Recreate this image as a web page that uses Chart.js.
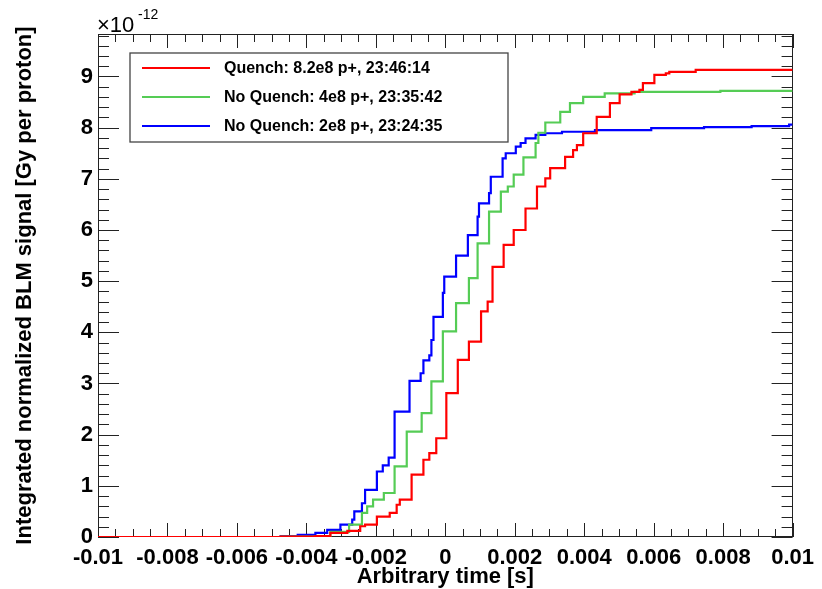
<!DOCTYPE html>
<html>
<head>
<meta charset="utf-8">
<script src="https://cdn.jsdelivr.net/npm/chart.js@4.4.0/dist/chart.umd.min.js"></script>
<style>
  html, body { margin: 0; padding: 0; background: #fff; }
  canvas { display: block; }
</style>
</head>
<body>
<canvas id="blm" width="822" height="589"></canvas>
<script>
// time in s, signal in units of 1e-12 Gy per proton
const quenchT = [-0.01, -0.00474, -0.00374, -0.00331, -0.00282, -0.00245, -0.00231, -0.00197, -0.00160, -0.00140,
                 -0.00131, -0.00097, -0.00063, -0.00046, -0.00026, 0.00003, 0.00036, 0.00068, 0.00103, 0.00122,
                 0.00136, 0.00168, 0.00197, 0.00231, 0.00264, 0.00288, 0.00302, 0.00345, 0.00368, 0.00379,
                 0.00397, 0.00436, 0.00474, 0.00502, 0.00536, 0.00559, 0.00569, 0.00602, 0.00635, 0.00645,
                 0.00721, 0.01];
const quenchY = [0, 0.01, 0.02, 0.08, 0.12, 0.21, 0.24, 0.40, 0.47, 0.63,
                 0.73, 1.22, 1.51, 1.64, 1.93, 2.81, 3.46, 3.82, 4.41, 4.60,
                 5.28, 5.71, 6.00, 6.42, 6.85, 7.01, 7.21, 7.43, 7.56, 7.66,
                 7.89, 8.21, 8.48, 8.65, 8.70, 8.74, 8.87, 9.03, 9.06, 9.09,
                 9.13, 9.13];

const noQuench4T = [-0.01, -0.00474, -0.00374, -0.00331, -0.00277, -0.00240, -0.00225, -0.00208, -0.00177, -0.00146,
                    -0.00111, -0.00068, -0.00040, -0.00007, 0.00031, 0.00068, 0.00093, 0.00126, 0.00160, 0.00180,
                    0.00197, 0.00225, 0.00260, 0.00268, 0.00288, 0.00331, 0.00359, 0.00397, 0.00459, 0.00545,
                    0.00792, 0.01];
const noQuench4Y = [0, 0.01, 0.02, 0.10, 0.24, 0.47, 0.60, 0.73, 0.86, 1.38,
                    2.06, 2.42, 3.04, 4.02, 4.57, 5.06, 5.74, 6.36, 6.75, 6.85,
                    7.08, 7.42, 7.70, 7.90, 8.10, 8.31, 8.48, 8.60, 8.67, 8.70,
                    8.72, 8.72];

const noQuench2T = [-0.01, -0.00474, -0.00425, -0.00374, -0.00340, -0.00302, -0.00268, -0.00262, -0.00240, -0.00231,
                    -0.00197, -0.00180, -0.00163, -0.00146, -0.00103, -0.00071, -0.00063, -0.00046, -0.00040, -0.00034,
                    -0.00007, -0.00003, 0.00031, 0.00065, 0.00093, 0.00097, 0.00126, 0.00131, 0.00165, 0.00174,
                    0.00203, 0.00217, 0.00231, 0.00260, 0.00288, 0.00336, 0.00431, 0.00593, 0.00745, 0.00882,
                    0.00990, 0.01];
const noQuench2Y = [0, 0.02, 0.04, 0.08, 0.14, 0.24, 0.34, 0.50, 0.66, 0.92,
                    1.28, 1.40, 1.55, 2.45, 3.05, 3.20, 3.45, 3.55, 3.85, 4.30,
                    4.77, 5.09, 5.50, 5.90, 6.26, 6.52, 6.72, 7.04, 7.40, 7.50,
                    7.63, 7.70, 7.79, 7.86, 7.89, 7.92, 7.95, 7.99, 8.01, 8.03,
                    8.06, 8.06];

const seriesLabels = ["Quench: 8.2e8 p+, 23:46:14", "No Quench: 4e8 p+, 23:35:42", "No Quench: 2e8 p+, 23:24:35"];
const seriesColors = ["#ff0000", "#55cc55", "#0000ff"];

const xMin = -0.01, xMax = 0.01, xStep = 0.002;
const yMin = 0, yMax = 9.83;

const FONT = "'Liberation Sans', Arial, Helvetica, sans-serif";

function toPoints(ts, ys) {
  return ts.map((t, i) => ({ x: t, y: ys[i] }));
}

// ROOT style frame with inward ticks on all four sides
const frameTicks = {
  id: 'frameTicks',
  beforeDatasetsDraw(chart) {
    const { ctx, chartArea: a, scales: { x, y } } = chart;
    ctx.save();
    ctx.strokeStyle = '#222';
    ctx.lineWidth = 1;
    ctx.beginPath();
    for (let i = 0; i <= 40; i++) {
      const px = Math.round(x.getPixelForValue(xMin + i * 0.0005)) + 0.5;
      const len = i % 4 === 0 ? 14 : 8;
      ctx.moveTo(px, a.bottom); ctx.lineTo(px, a.bottom - len);
      ctx.moveTo(px, a.top); ctx.lineTo(px, a.top + len);
    }
    for (let i = 0; i * 0.2 <= yMax; i++) {
      const py = Math.round(y.getPixelForValue(i * 0.2)) + 0.5;
      const len = i % 5 === 0 ? 21 : 11;
      ctx.moveTo(a.left, py); ctx.lineTo(a.left + len, py);
      ctx.moveTo(a.right, py); ctx.lineTo(a.right - len, py);
    }
    ctx.stroke();
    ctx.strokeRect(Math.round(a.left) + 0.5, Math.round(a.top) + 0.5,
                   Math.round(a.width) - 1, Math.round(a.height) - 1);
    ctx.restore();
  }
};

// legend box inside the frame, plus the x10^-12 exponent
const boxLegend = {
  id: 'boxLegend',
  afterDraw(chart) {
    const { ctx } = chart;
    ctx.save();
    ctx.fillStyle = '#fff';
    ctx.fillRect(130, 53, 378, 89);
    ctx.strokeStyle = '#444';
    ctx.lineWidth = 1.3;
    ctx.strokeRect(130, 53, 378, 89);
    const rows = [68, 97, 126];
    chart.data.datasets.forEach((ds, i) => {
      ctx.strokeStyle = ds.borderColor;
      ctx.lineWidth = 2;
      ctx.beginPath();
      ctx.moveTo(142, rows[i]);
      ctx.lineTo(210, rows[i]);
      ctx.stroke();
      ctx.fillStyle = '#000';
      ctx.font = "bold 16px " + FONT;
      ctx.textBaseline = 'middle';
      ctx.fillText(ds.label, 224, rows[i] + 1);
    });

    ctx.fillStyle = '#000';
    ctx.textBaseline = 'alphabetic';
    ctx.font = "22px " + FONT;
    ctx.fillText("\u00d710", 97, 32);
    ctx.font = "14px " + FONT;
    ctx.fillText("-12", 138, 19);
    ctx.restore();
  }
};

const datasets = [
  toPoints(quenchT, quenchY),
  toPoints(noQuench4T, noQuench4Y),
  toPoints(noQuench2T, noQuench2Y)
].map((pts, i) => ({
  label: seriesLabels[i],
  data: pts,
  borderColor: seriesColors[i],
  borderWidth: 2.2,
  pointRadius: 0,
  stepped: 'before',
  fill: false
}));

new Chart(document.getElementById('blm').getContext('2d'), {
  type: 'line',
  data: { datasets },
  options: {
    responsive: false,
    animation: false,
    events: [],
    layout: { padding: { left: 0, top: 34, right: 23, bottom: 0 } },
    plugins: { legend: { display: false }, tooltip: { enabled: false } },
    scales: {
      x: {
        type: 'linear',
        min: xMin,
        max: xMax,
        afterFit: s => { s.height = 52; },
        grid: { display: false, drawTicks: false },
        border: { display: false },
        ticks: {
          stepSize: xStep,
          autoSkip: false,
          maxRotation: 0,
          padding: 8,
          color: '#000',
          font: { family: FONT, size: 22, weight: 'bold' },
          callback: v => String(Math.round(v * 10000) / 10000)
        },
        title: {
          display: true,
          text: 'Arbitrary time [s]',
          color: '#000',
          padding: { top: 0, bottom: -1 },
          font: { family: FONT, size: 22, weight: 'bold' }
        }
      },
      y: {
        min: yMin,
        max: yMax,
        afterFit: s => { s.width = 98; },
        grid: { display: false, drawTicks: false },
        border: { display: false },
        ticks: {
          stepSize: 1,
          includeBounds: false,
          padding: 5,
          color: '#000',
          font: { family: FONT, size: 22, weight: 'bold' }
        },
        title: {
          display: true,
          text: 'Integrated normalized BLM signal [Gy per proton]',
          color: '#000',
          padding: { top: 12, bottom: 0 },
          font: { family: FONT, size: 22, weight: 'bold' }
        }
      }
    }
  },
  plugins: [frameTicks, boxLegend]
});
</script>
</body>
</html>
